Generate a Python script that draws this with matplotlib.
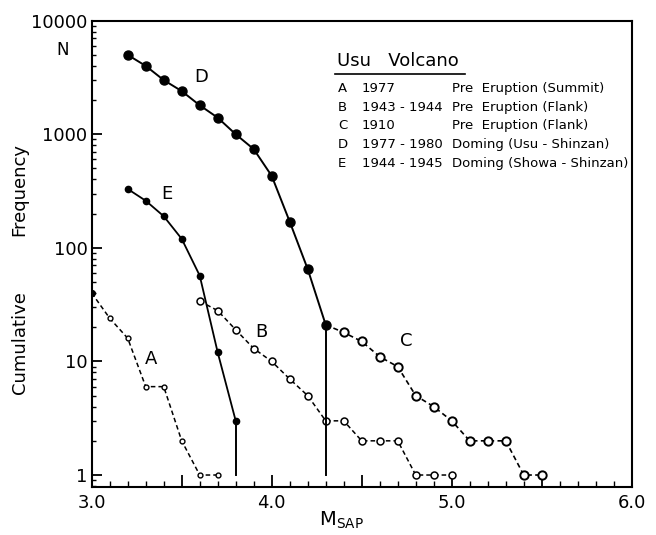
import matplotlib
matplotlib.use("Agg")
import matplotlib.pyplot as plt
from matplotlib.ticker import FixedLocator, LogLocator, NullFormatter

# magnitude / cumulative frequency
m_a = [3.0, 3.1, 3.2, 3.3, 3.4, 3.5, 3.6, 3.7]
n_a = [40, 24, 16, 6, 6, 2, 1, 1]

m_b = [3.6, 3.7, 3.8, 3.9, 4.0, 4.1, 4.2, 4.3, 4.4, 4.5, 4.6, 4.7, 4.8, 4.9, 5.0]
n_b = [34, 28, 19, 13, 10, 7, 5, 3, 3, 2, 2, 2, 1, 1, 1]

m_c = [4.3, 4.4, 4.5, 4.6, 4.7, 4.8, 4.9, 5.0, 5.1, 5.2, 5.3, 5.4, 5.5]
n_c = [21, 18, 15, 11, 9, 5, 4, 3, 2, 2, 2, 1, 1]

m_d = [3.2, 3.3, 3.4, 3.5, 3.6, 3.7, 3.8, 3.9, 4.0, 4.1, 4.2, 4.3]
n_d = [5000, 4000, 3000, 2400, 1800, 1400, 1000, 740, 430, 170, 65, 21]

m_e = [3.2, 3.3, 3.4, 3.5, 3.6, 3.7, 3.8]
n_e = [330, 260, 190, 120, 57, 12, 3]

x_ticks = [3.0, 3.5, 4.0, 4.5, 5.0, 5.5, 6.0]
x_labels = ["3.0", "", "4.0", "", "5.0", "", "6.0"]
y_ticks = [1, 10, 100, 1000, 10000]
y_labels = ["1", "10", "100", "1000", "10000"]

legend_rows = [
    ("A", "1977", "Pre  Eruption (Summit)"),
    ("B", "1943 - 1944", "Pre  Eruption (Flank)"),
    ("C", "1910", "Pre  Eruption (Flank)"),
    ("D", "1977 - 1980", "Doming (Usu - Shinzan)"),
    ("E", "1944 - 1945", "Doming (Showa - Shinzan)"),
]

plt.rcParams["font.family"] = ["DejaVu Sans"]

fig = plt.figure(figsize=(6.56, 5.35), dpi=100)
ax = fig.add_axes([0.1398, 0.0892, 0.8232, 0.8721])
ax.set_yscale("log")
ax.set_xlim(3.0, 6.0)
ax.set_ylim(0.78, 10000)

k = "black"
# A
ax.plot(m_a, n_a, ls=(0, (3, 2)), color=k, lw=1.1, marker="o", ms=3.5,
        mfc="white", mec=k, mew=1.0)
ax.plot(m_a[0], n_a[0], "o", color=k, ms=4)
# B
ax.plot(m_b, n_b, ls=(0, (3, 2)), color=k, lw=1.1, marker="o", ms=5,
        mfc="white", mec=k, mew=1.1)
# C
ax.plot(m_c, n_c, ls=(0, (3, 2)), color=k, lw=1.2, marker="o", ms=6,
        mfc="white", mec=k, mew=1.4, markevery=list(range(1, len(m_c))))
# D
ax.plot(m_d, n_d, "-", color=k, lw=1.4, marker="o", ms=6.5)
ax.plot([m_d[-1], m_d[-1]], [n_d[-1], 1], "-", color=k, lw=1.4)
# E
ax.plot(m_e, n_e, "-", color=k, lw=1.3, marker="o", ms=4.5)
ax.plot([m_e[-1], m_e[-1]], [n_e[-1], 1], "-", color=k, lw=1.4)

# curve letters
for txt, x, y in [("D", 3.61, 3200), ("E", 3.42, 300), ("A", 3.33, 10.5),
                  ("B", 3.94, 18), ("C", 4.75, 15)]:
    ax.text(x, y, txt, fontsize=13, ha="center", va="center")

# ticks
ax.xaxis.set_major_locator(FixedLocator(x_ticks))
ax.xaxis.set_minor_locator(FixedLocator([3 + i * 0.1 for i in range(31)]))
ax.set_xticklabels(x_labels)
ax.tick_params(axis="x", which="major", direction="in", length=9, width=1.3,
               labelsize=13, pad=5, top=False)
ax.tick_params(axis="x", which="minor", direction="in", length=4, width=1.0,
               top=False)
ax.yaxis.set_minor_locator(LogLocator(base=10, subs=range(2, 10), numticks=20))
ax.yaxis.set_minor_formatter(NullFormatter())
ax.set_yticks(y_ticks)
ax.set_yticklabels(y_labels)
ax.tick_params(axis="y", which="major", direction="in", length=7, width=1.3,
               labelsize=13, pad=3, right=False)
ax.tick_params(axis="y", which="minor", direction="in", length=3, width=1.0,
               right=False)
for s in ax.spines.values():
    s.set_linewidth(1.5)

# axis labels
fig.text(0.096, 0.906, "N", fontsize=12, ha="center", va="center")
fig.text(0.030, 0.645, "Frequency", fontsize=13, rotation=90, ha="center", va="center")
fig.text(0.030, 0.36, "Cumulative", fontsize=13, rotation=90, ha="center", va="center")
fig.text(0.52, 0.028, r"M$_{\mathrm{SAP}}$", fontsize=14, ha="center", va="center")

# legend block
ax.text(0.454, 0.913, "Usu   Volcano", transform=ax.transAxes, fontsize=13,
        ha="left", va="center")
ax.plot([0.451, 0.692], [0.885, 0.885], transform=ax.transAxes, color=k, lw=1.2)
y0 = 0.855
for i, (lab, yr, desc) in enumerate(legend_rows):
    yy = y0 - i * 0.04
    ax.text(0.456, yy, lab, transform=ax.transAxes, fontsize=9.5, va="center")
    ax.text(0.5, yy, yr, transform=ax.transAxes, fontsize=9.5, va="center")
    ax.text(0.668, yy, desc, transform=ax.transAxes, fontsize=9.5, va="center")

fig.savefig("out.png", dpi=100)
